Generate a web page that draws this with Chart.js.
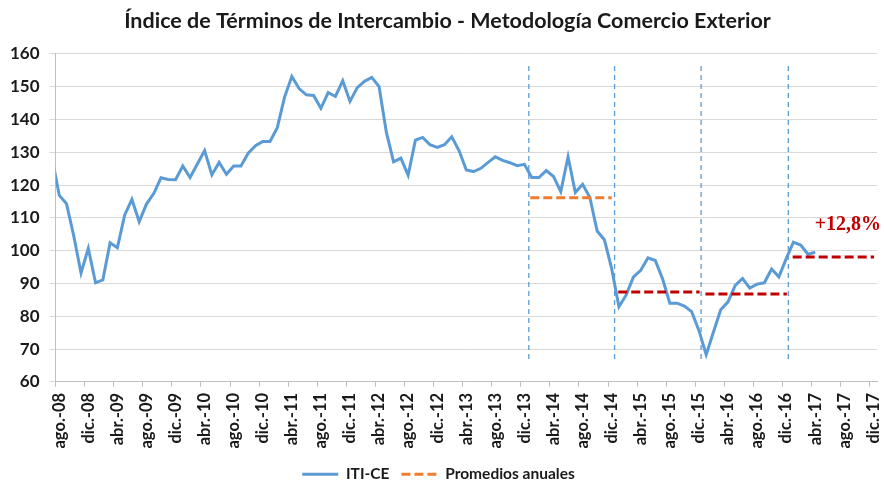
<!DOCTYPE html>
<html><head><meta charset="utf-8">
<script src="https://cdn.jsdelivr.net/npm/chart.js@4.4.1/dist/chart.umd.min.js"></script>
<style>html,body{margin:0;padding:0;background:#fff}#wrap{width:884px;height:486px;position:relative}</style>
</head><body><div id="wrap"><canvas id="c"></canvas></div>
<script>
// Tick labels (one every 4 months, from ago.-08 to dic.-17)
const tickLabels = ['ago.-08','dic.-08','abr.-09','ago.-09','dic.-09','abr.-10','ago.-10','dic.-10','abr.-11','ago.-11','dic.-11','abr.-12','ago.-12','dic.-12','abr.-13','ago.-13','dic.-13','abr.-14','ago.-14','dic.-14','abr.-15','ago.-15','dic.-15','abr.-16','ago.-16','dic.-16','abr.-17','ago.-17','dic.-17'];

// ITI-CE monthly values, first value = jul.-08 (month index -1, ago.-08 = 0)
const itiFirstMonth = -1;
const itiValues = [128.5,
  116.9,114.3,104.5,93.2,100.7,90.2,91.1,102.4,100.9,110.8,115.6,108.8,
  114.2,117.4,122.2,121.7,121.6,125.8,122.3,126.4,130.5,123.1,126.9,123.3,
  125.8,125.8,129.7,132.0,133.3,133.3,137.5,146.8,153.1,149.4,147.5,147.3,
  143.4,148.2,147.0,151.8,145.5,149.7,151.6,152.8,150.0,136.1,127.1,128.2,
  123.0,133.7,134.5,132.3,131.5,132.3,134.7,130.5,124.6,124.1,125.1,126.9,
  128.6,127.5,126.8,125.9,126.3,122.3,122.3,124.4,122.6,118.0,128.6,117.7,
  120.2,116.2,106.0,103.3,94.5,82.9,86.5,92.0,94.0,97.8,97.0,91.4,
  84.0,84.0,83.1,81.4,75.7,68.3,75.2,82.0,84.4,89.4,91.5,88.6,
  89.8,90.2,94.4,92.0,97.5,102.6,101.7,98.9,99.5];

// Annual averages (Promedios anuales)
const avgYears  = ['2014','2015','2016','2017'];
const avgValues = [116.1, 87.4, 86.8, 98.1];
const avgFrom   = [64.8, 76.9, 88.9, 100.9];   // month index where each segment starts
const avgTo     = [76.0, 88.1, 100.1, 112.1];  // month index where each segment ends
const avgColors = ['#ed7d31','#c00000','#c00000','#c00000'];

// Year separators (month index) and their vertical extent (index values)
const sepX = [64.6, 76.4, 88.3, 100.3];
const sepRange = [67, 157];

// Annotation
const noteText = '+12,8%';
const noteAt = [108.5, 107.8];

const FONT = 'Lato';
const datasets = [];
datasets.push({
  label: 'ITI-CE',
  data: itiValues.map((v, i) => ({x: itiFirstMonth + i, y: v})),
  borderColor: '#5b9bd5', backgroundColor: '#5b9bd5',
  borderWidth: 3, pointRadius: 0, tension: 0, order: 2
});
avgValues.forEach((v, i) => {
  datasets.push({
    label: i === 0 ? 'Promedios anuales' : 'Promedio ' + avgYears[i],
    data: [{x: avgFrom[i], y: v}, {x: avgTo[i], y: v}],
    borderColor: avgColors[i], backgroundColor: avgColors[i],
    borderWidth: 3, borderDash: [9, 4], pointRadius: 0, order: 1
  });
});
sepX.forEach((sx) => {
  datasets.push({
    label: 'sep',
    data: [{x: sx, y: sepRange[0]}, {x: sx, y: sepRange[1]}],
    borderColor: '#5b9bd5', borderWidth: 1.3, borderDash: [5, 4],
    pointRadius: 0, order: 3
  });
});

const notePlugin = {
  id: 'note',
  afterLayout(chart) {
    if (chart.titleBlock) chart.titleBlock.left += 18;
  },
  afterDatasetsDraw(chart) {
    const {ctx, scales: {x, y}} = chart;
    ctx.save();
    ctx.font = 'bold 20px "Liberation Serif"';
    ctx.fillStyle = '#c00000';
    ctx.textAlign = 'center';
    ctx.textBaseline = 'middle';
    ctx.fillText(noteText, x.getPixelForValue(noteAt[0]), y.getPixelForValue(noteAt[1]));
    ctx.restore();
  }
};

new Chart(document.getElementById('c'), {
  type: 'line',
  data: { datasets },
  plugins: [notePlugin],
  options: {
    responsive: true, maintainAspectRatio: false, animation: false,
    layout: { padding: { left: 0, right: 7, top: 0, bottom: -6 } },
    plugins: {
      title: {
        display: true,
        text: 'Índice de Términos de Intercambio - Metodología Comercio Exterior',
        color: '#1a1a1a', font: { family: FONT, size: 21.5, weight: 'bold' },
        padding: { top: 8, bottom: 20 }
      },
      legend: {
        position: 'bottom',
        labels: {
          filter: (item) => item.datasetIndex <= 1,
          sort: (a, b) => a.datasetIndex - b.datasetIndex,
          generateLabels: (chart) => {
            const items = Chart.defaults.plugins.legend.labels.generateLabels(chart);
            return items.map((it) => {
              const ds = chart.data.datasets[it.datasetIndex];
              it.lineDash = ds.borderDash || [];
              it.lineWidth = ds.borderWidth;
              it.strokeStyle = ds.borderColor;
              return it;
            });
          },
          usePointStyle: true, pointStyle: 'line', pointStyleWidth: 36,
          color: '#1a1a1a', font: { family: FONT, size: 15.5, weight: 'bold' },
          padding: 12
        }
      },
      tooltip: { enabled: false }
    },
    scales: {
      x: {
        type: 'linear', min: -0.5, max: 112.5,
        afterBuildTicks: (scale) => { scale.ticks = tickLabels.map((_, i) => ({ value: -0.5 + 4 * i })); },
        afterFit: (scale) => { scale.paddingLeft = 0; scale.paddingRight = 0; },
        ticks: {
          autoSkip: false, maxRotation: 90, minRotation: 90, labelOffset: 3.6, padding: 6,
          color: '#1a1a1a', font: { family: FONT, size: 16.5, weight: 'bold' },
          callback: (v, i) => tickLabels[i]
        },
        grid: { drawOnChartArea: false, tickLength: 5, color: '#bfbfbf' },
        border: { color: '#bfbfbf' }
      },
      y: {
        min: 60, max: 160,
        ticks: { stepSize: 10, padding: 10, color: '#1a1a1a', font: { family: FONT, size: 17, weight: 'bold' } },
        grid: { color: '#d9d9d9', tickLength: 6 },
        border: { color: '#bfbfbf' }
      }
    }
  }
});
</script>
</body></html>
